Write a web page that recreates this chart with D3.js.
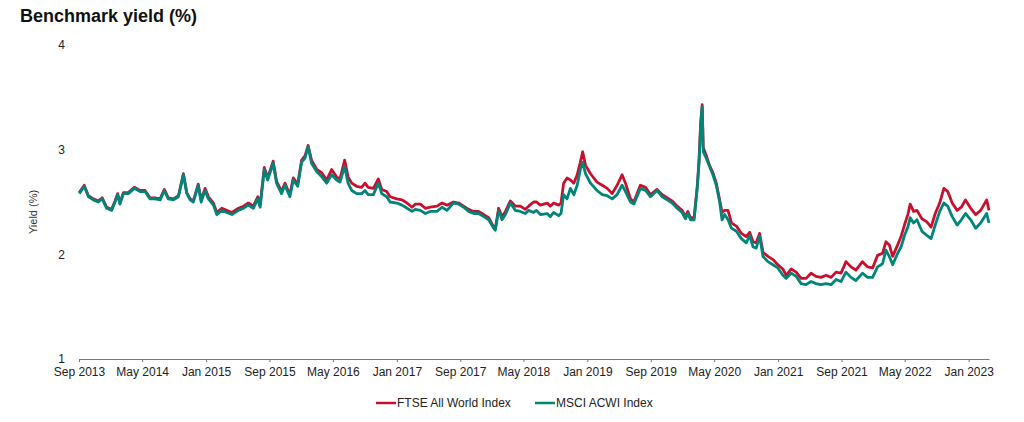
<!DOCTYPE html>
<html>
<head>
<meta charset="utf-8">
<script src="https://cdn.jsdelivr.net/npm/d3@7"></script>
<style>
  body { margin: 0; background: #fff; }
  svg { display: block; font-family: "Liberation Sans", Arial, sans-serif; }
</style>
</head>
<body>
<div id="app"></div>
<script>
// Dates (roughly every 2-3 weeks)
const dates = [
  "2013-09-02","2013-09-21","2013-10-07","2013-10-26","2013-11-14","2013-11-29","2013-12-16","2014-01-04","2014-01-17","2014-01-27",
  "2014-02-05","2014-02-18","2014-03-09","2014-04-01","2014-04-23","2014-05-12","2014-05-31","2014-06-19","2014-07-09","2014-07-25",
  "2014-08-09","2014-08-29","2014-09-17","2014-10-06","2014-10-19","2014-11-01","2014-11-13","2014-12-02","2014-12-13","2014-12-28",
  "2015-01-10","2015-01-29","2015-02-11","2015-03-02","2015-03-21","2015-04-10","2015-05-05","2015-05-24","2015-06-12","2015-07-01",
  "2015-07-18","2015-07-27","2015-08-12","2015-08-25","2015-09-15","2015-09-28","2015-10-17","2015-10-30","2015-11-18","2015-12-01",
  "2015-12-18","2016-01-02","2016-01-15","2016-01-27","2016-02-09","2016-02-29","2016-03-19","2016-04-07","2016-04-26","2016-05-15",
  "2016-05-28","2016-06-15","2016-06-28","2016-07-12","2016-07-31","2016-08-19","2016-09-01","2016-09-13","2016-10-03","2016-10-22",
  "2016-11-04","2016-11-23","2016-12-06","2017-01-01","2017-01-21","2017-02-09","2017-02-28","2017-03-13","2017-04-01","2017-04-20",
  "2017-05-09","2017-06-04","2017-06-23","2017-07-12","2017-08-06","2017-08-26","2017-09-14","2017-10-03","2017-10-22","2017-11-10",
  "2017-11-30","2017-12-19","2018-01-07","2018-01-13","2018-01-26","2018-02-08","2018-02-21","2018-03-12","2018-03-31","2018-04-19",
  "2018-05-08","2018-05-21","2018-06-09","2018-06-20","2018-07-05","2018-07-31","2018-08-12","2018-08-25","2018-09-13","2018-09-22",
  "2018-10-02","2018-10-15","2018-10-28","2018-11-10","2018-11-23","2018-12-05","2018-12-14","2018-12-25","2019-01-13","2019-02-07",
  "2019-02-27","2019-03-18","2019-04-06","2019-04-25","2019-05-14","2019-05-27","2019-06-15","2019-06-28","2019-07-23","2019-08-12",
  "2019-08-31","2019-09-25","2019-10-15","2019-11-03","2019-11-22","2019-12-11","2019-12-30","2020-01-12","2020-01-21","2020-01-31",
  "2020-02-14","2020-02-26","2020-03-04","2020-03-10","2020-03-16","2020-03-20","2020-03-31","2020-04-13","2020-04-26","2020-05-09",
  "2020-05-22","2020-05-31","2020-06-10","2020-06-23","2020-07-06","2020-07-25","2020-08-13","2020-09-01","2020-09-14","2020-09-27",
  "2020-10-09","2020-10-22","2020-11-04","2020-11-23","2020-12-12","2020-12-31","2021-01-19","2021-02-01","2021-02-20","2021-03-11",
  "2021-03-30","2021-04-18","2021-05-07","2021-05-26","2021-06-14","2021-07-04","2021-07-23","2021-08-11","2021-08-30","2021-09-18",
  "2021-10-07","2021-10-26","2021-11-20","2021-12-10","2021-12-29","2022-01-17","2022-02-05","2022-02-18","2022-03-03","2022-03-16",
  "2022-04-04","2022-04-17","2022-04-30","2022-05-13","2022-05-22","2022-06-04","2022-06-17","2022-07-06","2022-07-25","2022-08-10",
  "2022-08-26","2022-09-12","2022-09-28","2022-10-13","2022-10-30","2022-11-18","2022-12-04","2022-12-20","2023-01-09","2023-01-28",
  "2023-02-16","2023-03-11","2023-03-20"
]

const ftse = [
  2.59,2.66,2.56,2.53,2.51,2.54,2.45,2.43,2.51,2.58,
  2.49,2.59,2.59,2.64,2.61,2.61,2.54,2.54,2.53,2.62,
  2.54,2.53,2.56,2.77,2.59,2.53,2.51,2.67,2.52,2.63,
  2.55,2.49,2.40,2.44,2.42,2.40,2.44,2.46,2.49,2.46,
  2.55,2.47,2.83,2.73,2.89,2.70,2.60,2.68,2.57,2.73,
  2.67,2.90,2.94,3.04,2.90,2.81,2.78,2.71,2.81,2.74,
  2.72,2.90,2.74,2.68,2.65,2.64,2.68,2.64,2.63,2.72,
  2.62,2.60,2.55,2.53,2.52,2.49,2.45,2.48,2.48,2.44,
  2.45,2.46,2.49,2.47,2.50,2.49,2.46,2.43,2.41,2.41,
  2.38,2.35,2.26,2.24,2.44,2.36,2.41,2.51,2.46,2.46,
  2.43,2.46,2.50,2.50,2.47,2.49,2.46,2.49,2.47,2.49,
  2.68,2.73,2.71,2.68,2.76,2.88,2.98,2.85,2.77,2.69,
  2.66,2.63,2.58,2.66,2.76,2.68,2.53,2.50,2.66,2.64,
  2.57,2.62,2.57,2.54,2.51,2.46,2.42,2.36,2.41,2.35,
  2.35,2.65,2.90,3.25,3.43,3.02,2.95,2.85,2.78,2.68,
  2.52,2.40,2.42,2.42,2.30,2.27,2.20,2.17,2.21,2.12,
  2.11,2.20,2.02,1.98,1.95,1.90,1.86,1.80,1.86,1.83,
  1.77,1.77,1.82,1.79,1.78,1.80,1.78,1.83,1.82,1.93,
  1.88,1.85,1.93,1.88,1.87,1.99,2.01,2.12,2.09,1.98,
  2.09,2.17,2.28,2.38,2.48,2.41,2.42,2.34,2.31,2.26,
  2.39,2.49,2.63,2.60,2.49,2.42,2.45,2.52,2.44,2.38,
  2.42,2.52,2.42
]

const msci = [
  2.58,2.65,2.55,2.52,2.50,2.53,2.44,2.42,2.50,2.57,
  2.48,2.58,2.58,2.63,2.60,2.60,2.53,2.53,2.52,2.61,
  2.53,2.52,2.55,2.76,2.58,2.52,2.50,2.66,2.50,2.61,
  2.53,2.47,2.38,2.42,2.40,2.38,2.42,2.44,2.47,2.44,
  2.53,2.45,2.81,2.71,2.87,2.68,2.58,2.66,2.55,2.71,
  2.65,2.88,2.92,3.03,2.87,2.79,2.74,2.68,2.76,2.71,
  2.69,2.84,2.68,2.61,2.58,2.58,2.61,2.57,2.57,2.68,
  2.58,2.55,2.50,2.49,2.47,2.44,2.41,2.43,2.42,2.39,
  2.41,2.41,2.45,2.42,2.49,2.48,2.45,2.41,2.39,2.39,
  2.36,2.33,2.25,2.23,2.42,2.33,2.38,2.49,2.42,2.41,
  2.39,2.42,2.40,2.42,2.38,2.39,2.36,2.40,2.37,2.39,
  2.57,2.53,2.63,2.57,2.66,2.81,2.88,2.77,2.68,2.61,
  2.57,2.56,2.53,2.57,2.66,2.60,2.50,2.48,2.63,2.61,
  2.55,2.61,2.55,2.52,2.49,2.44,2.40,2.34,2.39,2.33,
  2.33,2.63,2.88,3.23,3.41,2.98,2.92,2.84,2.76,2.66,
  2.50,2.33,2.38,2.33,2.25,2.22,2.15,2.11,2.18,2.07,
  2.06,2.17,1.98,1.93,1.90,1.87,1.80,1.77,1.82,1.79,
  1.72,1.71,1.74,1.72,1.71,1.72,1.71,1.76,1.74,1.83,
  1.78,1.75,1.82,1.78,1.78,1.88,1.91,2.04,1.98,1.90,
  2.01,2.07,2.18,2.26,2.35,2.30,2.33,2.22,2.18,2.15,
  2.28,2.41,2.49,2.46,2.36,2.28,2.33,2.39,2.33,2.25,
  2.30,2.39,2.30
]

const tickDates = ["2013-09-01","2014-05-01","2015-01-01","2015-09-01","2016-05-01","2017-01-01","2017-09-01",
  "2018-05-01","2019-01-01","2019-09-01","2020-05-01","2021-01-01","2021-09-01","2022-05-01","2023-01-01"]
const yTicks = [1, 2, 3, 4]
const seriesNames = ["FTSE All World Index", "MSCI ACWI Index"]
const seriesColors = ["#c8102e", "#00857a"]

const parse = d3.utcParse("%Y-%m-%d")

const width = 1024
const height = 422
const marginTop = 45
const marginBottom = 63
const marginLeft = 79
const marginRight = 35

const x = d3.scaleUtc()
  .domain([parse("2013-09-01"), parse("2023-03-20")])
  .range([marginLeft, width - marginRight])

const y = d3.scaleLinear()
  .domain([1, 4])
  .range([height - marginBottom, marginTop])

const svg = d3.select("#app")
  .append("svg")
  .attr("width", width)
  .attr("height", height)

// Title
svg.append("text")
  .attr("x", 20)
  .attr("y", 22)
  .attr("font-size", 18)
  .attr("font-weight", "bold")
  .attr("fill", "#111")
  .text("Benchmark yield (%)")

// x axis
const xAxis = svg.append("g")
  .attr("transform", `translate(0,${y(1)})`)
  .call(d3.axisBottom(x)
    .tickValues(tickDates.map(parse))
    .tickFormat(d3.utcFormat("%b %Y"))
    .tickSize(3)
    .tickSizeOuter(0))
xAxis.select(".domain").attr("stroke", "#777")
xAxis.selectAll(".tick line").attr("stroke", "#777")
xAxis.selectAll(".tick text")
  .attr("font-size", 12)
  .attr("fill", "#222")
  .attr("font-family", "Liberation Sans, Arial, sans-serif")
  .attr("dy", "0.9em")

// y axis: labels only
const yAxis = svg.append("g")
  .attr("transform", `translate(${marginLeft},0)`)
  .call(d3.axisLeft(y).tickValues(yTicks).tickFormat(d3.format("d")).tickSize(0).tickPadding(14))
yAxis.select(".domain").remove()
yAxis.selectAll(".tick text")
  .attr("font-size", 12)
  .attr("fill", "#222")
  .attr("font-family", "Liberation Sans, Arial, sans-serif")

svg.append("text")
  .attr("transform", `translate(37,${(y(4) + y(1)) / 2 + 10}) rotate(-90)`)
  .attr("text-anchor", "middle")
  .attr("font-size", 11)
  .attr("fill", "#333")
  .text("Yield (%)")

// lines
const line = d3.line()
  .x(d => x(d.date))
  .y(d => y(d.value))

const series = [ftse, msci].map((vals, i) => ({
  name: seriesNames[i],
  color: seriesColors[i],
  values: dates.map((d, j) => ({ date: parse(d), value: vals[j] }))
}))

svg.selectAll(".series")
  .data(series)
  .join("path")
  .attr("class", "series")
  .attr("fill", "none")
  .attr("stroke", d => d.color)
  .attr("stroke-width", 2.8)
  .attr("stroke-linejoin", "round")
  .attr("d", d => line(d.values))

// legend
const legend = svg.append("g")
  .attr("transform", "translate(376,403)")
const legendOffsets = [0, 159]
series.forEach((s, i) => {
  const g = legend.append("g").attr("transform", `translate(${legendOffsets[i]},0)`)
  g.append("line")
    .attr("x1", 0).attr("x2", 20)
    .attr("stroke", s.color)
    .attr("stroke-width", 2.5)
  g.append("text")
    .attr("x", 21)
    .attr("dy", "0.35em")
    .attr("font-size", 12)
    .attr("fill", "#222")
    .text(s.name)
})
</script>
</body>
</html>
